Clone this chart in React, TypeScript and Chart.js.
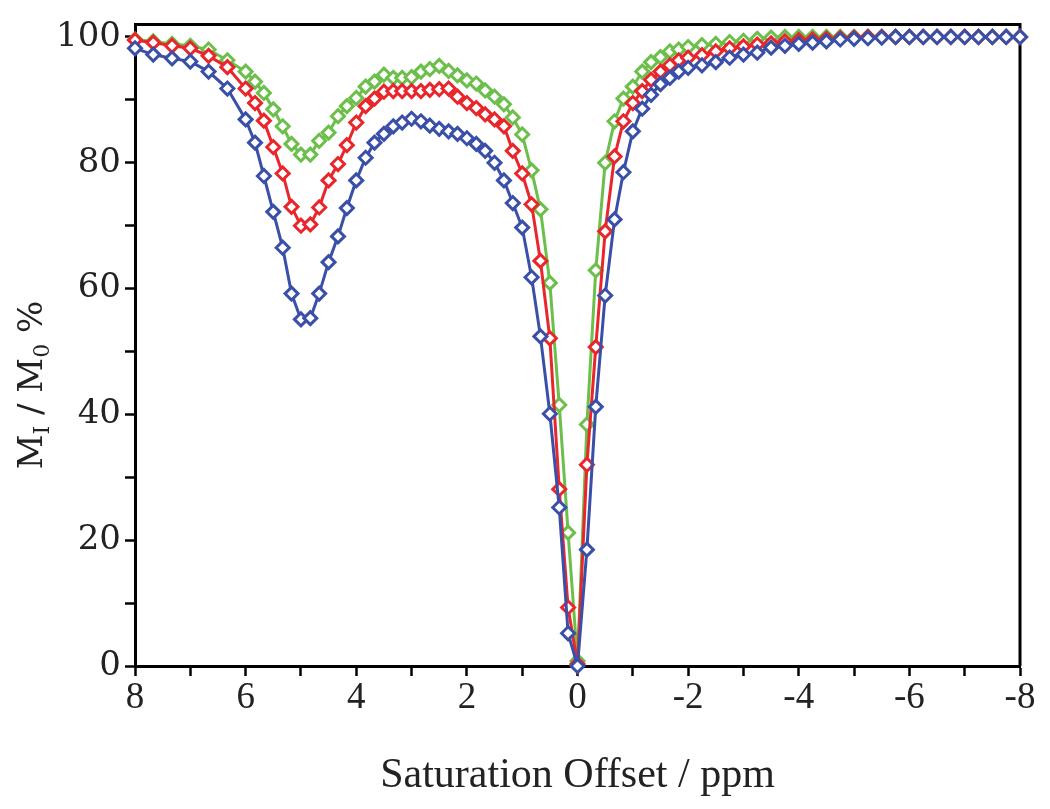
import React, { useEffect, useRef } from "react";
import { Chart, registerables } from "chart.js";

Chart.register(...registerables);

// Saturation offsets (ppm)
const offsets = [
  8, 7.67, 7.33, 7, 6.67, 6.33,
  6, 5.83, 5.67, 5.5, 5.33, 5.17,
  5, 4.83, 4.67, 4.5, 4.33, 4.17,
  4, 3.83, 3.67, 3.5, 3.33, 3.17,
  3, 2.83, 2.67, 2.5, 2.33, 2.17,
  2, 1.83, 1.67, 1.5, 1.33, 1.17,
  1, 0.83, 0.67, 0.5, 0.33, 0.17,
  0, -0.17, -0.33, -0.5, -0.67, -0.83,
  -1, -1.17, -1.33, -1.5, -1.67, -1.83,
  -2,
  -2.25, -2.5, -2.75, -3, -3.25, -3.5, -3.75, -4, -4.25, -4.5, -4.75, -5,
  -5.25, -5.5, -5.75, -6, -6.25, -6.5, -6.75, -7, -7.25, -7.5, -7.75, -8,
];

const blueValues = [
  98.2, 97.2, 96.6, 96.1, 94.5, 91.8,
  86.9, 83.2, 77.9, 72.2, 66.5, 59.2,
  55.1, 55.3, 59.2, 64.2, 68.3, 72.8,
  77.2, 80.8, 83.2, 84.6, 85.8, 86.4,
  87.0, 86.6, 85.9, 85.4, 85.0, 84.6,
  83.9, 83.0, 81.9, 80.0, 77.2, 73.6,
  69.7, 61.8, 52.4, 40.1, 25.2, 5.2,
  0, 18.5, 41.2, 58.9, 71.0, 78.5,
  85.0, 88.6, 90.8, 92.5, 93.5, 94.5,
  95.1,
  95.5, 96.0, 96.7, 97.2, 97.5, 98.3, 98.6, 98.9, 99.1, 99.3, 99.6, 99.7,
  99.8, 99.9, 100, 100, 100, 100, 100, 100, 100, 100, 100, 100,
];

const redValues = [
  99.5, 99.1, 98.6, 98.2, 97.0, 95.2,
  91.8, 89.5, 86.7, 82.5, 78.3, 73.0,
  70.0, 70.2, 72.9, 77.2, 79.8, 82.8,
  86.4, 89.0, 90.2, 91.3, 91.4, 91.4,
  91.4, 91.4, 91.6, 91.7, 91.8, 90.5,
  89.5, 88.7, 87.7, 86.9, 85.8, 81.9,
  78.3, 73.4, 64.4, 52.1, 28.1, 9.3,
  0.3, 32.0, 50.7, 69.1, 81.0, 86.6,
  89.5, 91.4, 93.2, 94.5, 95.5, 96.3,
  96.7,
  97.1, 97.7, 98.2, 98.5, 98.8, 99.0, 99.3, 99.5, 99.6, 99.7, 99.8, 99.9,
  100, 100, 100, 100, 100, 100, 100, 100, 100, 100, 100, 100,
];

const greenValues = [
  99.6, 99.3, 98.9, 98.6, 98.0, 96.3,
  94.5, 92.9, 91.1, 88.5, 85.8, 83.0,
  81.3, 81.3, 83.5, 84.8, 87.4, 89.0,
  90.3, 92.1, 92.9, 94.0, 93.5, 93.5,
  93.6, 94.5, 94.9, 95.4, 94.6, 93.9,
  93.1, 92.6, 91.5, 90.5, 89.3, 87.2,
  84.5, 78.8, 72.6, 60.9, 41.5, 21.2,
  0.8, 38.4, 62.9, 80.0, 86.6, 90.2,
  92.1, 94.5, 96.0, 96.8, 97.7, 98.0,
  98.4,
  98.7, 98.9, 99.2, 99.4, 99.7, 99.9, 100, 100, 100, 100, 100, 100,
  100, 100, 100, 100, 100, 100, 100, 100, 100, 100, 100, 100,
];

const yTickValues = [0, 10, 20, 30, 40, 50, 60, 70, 80, 90, 100];
const yLabeledTicks = [0, 20, 40, 60, 80, 100];
const xLabeledTicks = [8, 6, 4, 2, 0, -2, -4, -6, -8];

const xTitle = "Saturation Offset / ppm";
const yTitleParts = [
  { text: "M", sub: false },
  { text: "I", sub: true },
  { text: " / M", sub: false },
  { text: "0", sub: true },
  { text: " %", sub: false },
];

const BLUE = "#3a4fa8";
const RED = "#e8262b";
const GREEN = "#6cbf4a";

const toPoints = (vals: number[]) => offsets.map((x, i) => ({ x, y: vals[i] }));

const framePlugin = {
  id: "frame",
  beforeDatasetsDraw(chart: any) {
    const { ctx, chartArea } = chart;
    ctx.save();
    ctx.strokeStyle = "#000";
    ctx.lineWidth = 3;
    ctx.beginPath();
    ctx.moveTo(chartArea.left, chartArea.top);
    ctx.lineTo(chartArea.right, chartArea.top);
    ctx.lineTo(chartArea.right, chartArea.bottom);
    ctx.stroke();
    ctx.restore();
  },
};

const yTitlePlugin = {
  id: "yTitleSub",
  afterDraw(chart: any) {
    const { ctx } = chart;
    const mainSize = 34;
    const subSize = 22;
    const mainFont = `${mainSize}px "DejaVu Serif"`;
    const subFont = `${subSize}px "DejaVu Serif"`;
    ctx.save();
    let total = 0;
    const widths = yTitleParts.map((p) => {
      ctx.font = p.sub ? subFont : mainFont;
      const w = ctx.measureText(p.text).width;
      total += w;
      return w;
    });
    ctx.translate(30, 385);
    ctx.rotate(-Math.PI / 2);
    ctx.fillStyle = "#222";
    ctx.textBaseline = "alphabetic";
    ctx.textAlign = "left";
    let x = -total / 2;
    const baseY = 12;
    yTitleParts.forEach((p, i) => {
      ctx.font = p.sub ? subFont : mainFont;
      ctx.fillText(p.text, x, p.sub ? baseY + 7 : baseY);
      x += widths[i];
    });
    ctx.restore();
  },
};

export default function App() {
  const canvasRef = useRef<HTMLCanvasElement | null>(null);

  useEffect(() => {
    if (!canvasRef.current) return;
    const ds = (label: string, vals: number[], color: string) => ({
      label,
      data: toPoints(vals),
      borderColor: color,
      backgroundColor: "#ffffff",
      borderWidth: 3,
      pointStyle: "rectRot",
      pointRadius: 6.5,
      pointBorderWidth: 3,
      pointBorderColor: color,
      pointBackgroundColor: "#ffffff",
      tension: 0,
      clip: false,
    });
    const chart = new Chart(canvasRef.current, {
      type: "line",
      data: {
        datasets: [
          ds("blue", blueValues, BLUE),
          ds("red", redValues, RED),
          ds("green", greenValues, GREEN),
        ],
      },
      options: {
        animation: false,
        responsive: false,
        events: [],
        layout: { padding: { top: 15, right: 30, left: 0, bottom: 0 } },
        plugins: { legend: { display: false }, tooltip: { enabled: false } },
        scales: {
          x: {
            type: "linear",
            reverse: true,
            min: -8,
            max: 8,
            afterFit: (s: any) => {
              s.height = 143;
            },
            ticks: {
              stepSize: 1,
              autoSkip: false,
              maxRotation: 0,
              padding: 0,
              color: "#222",
              font: { family: '"Liberation Serif"', size: 37 },
              callback: (v: any) => (xLabeledTicks.includes(Number(v)) ? String(v) : ""),
            },
            grid: {
              drawOnChartArea: false,
              drawTicks: true,
              tickLength: 10,
              tickWidth: 2.5,
              tickColor: "#000",
            },
            border: { display: true, color: "#000", width: 3 },
            title: {
              display: true,
              text: xTitle,
              color: "#222",
              font: { family: '"Liberation Serif"', size: 42 },
              padding: { top: 0, bottom: 8 },
            },
          },
          y: {
            type: "linear",
            min: 0,
            max: 102,
            afterFit: (s: any) => {
              s.width = 135;
            },
            afterBuildTicks: (s: any) => {
              s.ticks = yTickValues.map((v) => ({ value: v }));
            },
            ticks: {
              autoSkip: false,
              padding: 4,
              color: "#222",
              font: { family: '"DejaVu Serif"', size: 34 },
              callback: (v: any) => (yLabeledTicks.includes(Number(v)) ? String(v) : ""),
            },
            grid: {
              drawOnChartArea: false,
              drawTicks: true,
              tickLength: 10,
              tickWidth: 2.5,
              tickColor: "#000",
            },
            border: { display: true, color: "#000", width: 3 },
          },
        },
      },
      plugins: [framePlugin, yTitlePlugin],
    } as any);
    return () => chart.destroy();
  }, []);

  return (
    <div style={{ position: "fixed", left: 0, top: 0, width: 1050, height: 809, background: "#fff" }}>
      <canvas ref={canvasRef} width={1050} height={809} />
    </div>
  );
}
